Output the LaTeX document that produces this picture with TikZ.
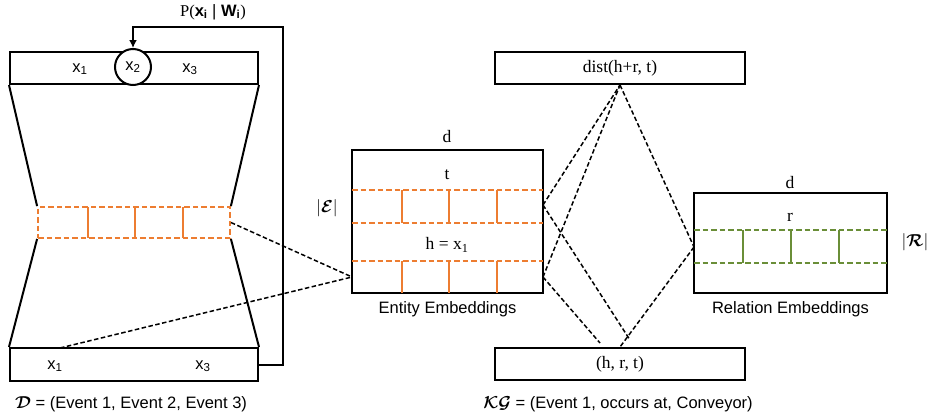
\documentclass[tikz,border=0pt]{standalone}
\usepackage{amsmath}
\usepackage{fontspec}
\setmainfont{Liberation Sans}
\newfontfamily\cambria{Liberation Serif}
\usetikzlibrary{positioning,arrows.meta}
\definecolor{embor}{RGB}{237,125,49}
\definecolor{relgr}{RGB}{106,142,56}

\begin{document}
\begin{tikzpicture}[x=1pt, y=-1pt, font=\fontsize{16.5}{19}\selectfont,
		b/.style={draw, line width=2pt, inner sep=0pt},
		f/.style={line width=2pt},
		o/.style={draw=embor, line width=1.8pt, dash pattern=on 5.5pt off 3pt},
		ov/.style={embor, line width=1.5pt},
		g/.style={draw=relgr, line width=1.8pt, dash pattern=on 5.5pt off 3pt},
		gv/.style={relgr, line width=1.5pt},
		dl/.style={line width=1.5pt, dash pattern=on 4.5pt off 2.5pt},
		s/.style={font=\fontsize{17.5}{20}\selectfont\cambria}]
		\useasboundingbox (0,0) rectangle (935,418);

		\node[b, minimum width=248pt, minimum height=32pt] (top) at (134,68) {};
		\node[b, circle, minimum size=36pt, fill=white] (x2) at (133,67) {x\textsubscript{2}};
		\node (top_x1) at (80,69) {x\textsubscript{1}};
		\node (top_x3) at (190,69) {x\textsubscript{3}};
		\node[o, minimum width=192pt, minimum height=31pt] (emb) at (134,222.5) {};
		\foreach \x in {88,135,183} \draw[ov] (\x,207) -- (\x,238);
		\node[b, minimum width=248pt, minimum height=33pt] (bot) at (134,364.5) {};
		\node (bot_x1) at (55,366) {x\textsubscript{1}};
		\node (bot_x3) at (203,366) {x\textsubscript{3}};
		\node (D_label) at (131,404) {$\boldsymbol{\mathcal{D}}$ = (Event 1, Event 2, Event 3)};

		\draw[f] (top.south west) -- (emb.north west);
		\draw[f] (top.south east) -- (emb.north east);
		\draw[f] (emb.south west) -- (bot.north west);
		\draw[f] (emb.south east) -- (bot.north east);
		\coordinate (loop) at (283,27);
		\draw[f, -{Latex[length=8pt, width=8pt]}] (bot.east) -| (loop) -| (x2.north);
		\node (P_label) at (213,12) {{\cambria P(}\textbf{x}\textsubscript{\textbf{i}} | \textbf{W}\textsubscript{\textbf{i}}{\cambria )}};

		\node[b, minimum width=191pt, minimum height=143pt] (ent) at (447.5,221.5) {};
		\draw[o] (352,190) -- (543,190);
		\draw[o] (352,223) -- (543,223);
		\draw[o] (352,261) -- (543,261);
		\foreach \x in {402,449,497} {
			\draw[ov] (\x,190) -- (\x,223);
			\draw[ov] (\x,261) -- (\x,293);
		}
		\node[s] (ent_d) at (447,137) {d};
		\node[s] (ent_t) at (447,175) {t};
		\node[s] (ent_h) at (447,245) {h = x\textsubscript{1}};
		\node[font=\fontsize{18}{20}\selectfont] (E_label) at (327,208) {$|\boldsymbol{\mathcal{E}}|$};
		\node[below=4pt of ent] (ent_label) {Entity Embeddings};

		\node[b, minimum width=193pt, minimum height=100pt] (rel) at (790.5,243) {};
		\draw[g] (694,230) -- (887,230);
		\draw[g] (694,263) -- (887,263);
		\foreach \x in {743,791,839} \draw[gv] (\x,230) -- (\x,263);
		\node[s] (rel_d) at (790,183) {d};
		\node[s] (rel_r) at (790,217) {r};
		\node[font=\fontsize{18}{20}\selectfont] (R_label) at (915,242) {$|\boldsymbol{\mathcal{R}}|$};
		\node[below=4pt of rel] (rel_label) {Relation Embeddings};

		\node[b, s, minimum width=250pt, minimum height=32pt] (dist) at (620,68) {dist(h+r, t)};
		\node[b, s, minimum width=250pt, minimum height=32pt] (hrt) at (620,364) {(h, r, t)};
		\node (KG_label) at (618,404) {$\boldsymbol{\mathcal{KG}}$ = (Event 1, occurs at, Conveyor)};

		\coordinate (bx1) at (60,348);
		\coordinate (ein) at (352,277);
		\coordinate (et) at (543,205);
		\coordinate (eh) at (543,277);
		\coordinate (rl) at (694,247);
		\coordinate (e1) at (630,340);
		\coordinate (e2) at (600,343);
		\draw[dl] (emb.east) -- (ein);
		\draw[dl] (bx1) -- (ein);
		\draw[dl] (et) -- (dist.south);
		\draw[dl] (eh) -- (dist.south);
		\draw[dl] (et) -- (e1);
		\draw[dl] (eh) -- (e2);
		\draw[dl] (dist.south) -- (rl);
		\draw[dl] (rl) -- (hrt.north);
	\end{tikzpicture}
\end{document}
